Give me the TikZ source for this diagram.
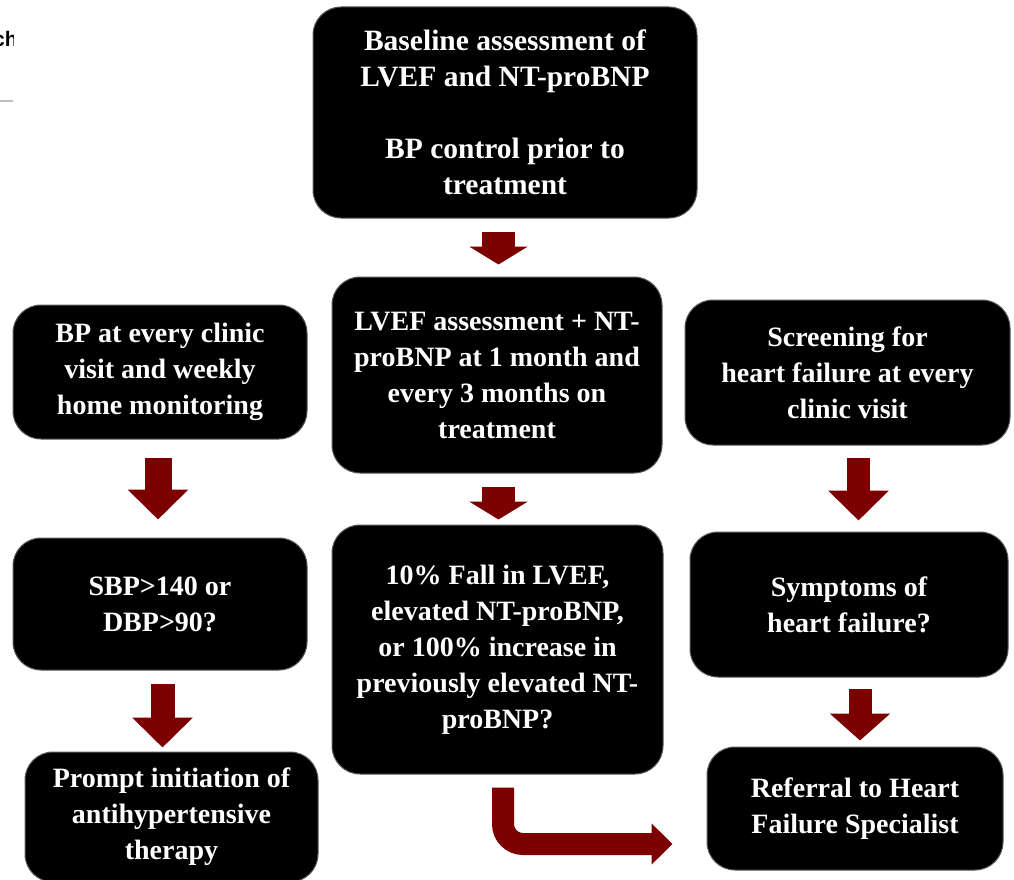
\documentclass[tikz,border=0pt]{standalone}
\usepackage{fontspec}
\setmainfont{Liberation Serif}
\newfontfamily\fragfont{Liberation Sans}
\usetikzlibrary{arrows.meta,calc}
\definecolor{arrowred}{RGB}{125,0,0}
\definecolor{boxedge}{RGB}{90,90,90}
\tikzset{
  blk/.style={rectangle, rounded corners=28pt, fill=black, draw=boxedge, line width=1pt,
    text=white, align=center, inner sep=0pt,
    font=\bfseries\fontsize{28}{36}\selectfont},
  darrow/.style n args={3}{draw=arrowred, line width=#1, line cap=butt,
    -{Triangle[length=#2, width=#3, fill=arrowred]}}
}
\begin{document}
\begin{tikzpicture}[x=1pt, y=-1pt]
\clip (0,0) rectangle (1014,880);
\fill[white] (0,0) rectangle (1014,880);

% fragment at top-left
\begin{scope}
  \clip (0,0) rectangle (13,70);
  \node[anchor=base west, inner sep=0pt, font=\fragfont\bfseries\fontsize{21}{24}\selectfont] (frag) at (-7,47) {ch};
\end{scope}
\coordinate (rulea) at (0,101);
\coordinate (ruleb) at (13,101);
\draw[black!25, line width=2pt] (rulea) -- (ruleb);

% boxes
\node[blk, minimum width=384pt, minimum height=211pt, font=\bfseries\fontsize{29.5}{36}\selectfont] (top) at (505,112.5)
  {Baseline assessment of\\LVEF and NT-proBNP\\[36pt]BP control prior to\\treatment};
\node[blk, minimum width=330pt, minimum height=196pt] (mid2) at (497,375)
  {LVEF assessment + NT-\\proBNP at 1 month and\\every 3 months on\\treatment};
\node[blk, minimum width=331pt, minimum height=249pt] (mid3) at (497.5,649.5)
  {10\% Fall in LVEF,\\elevated NT-proBNP,\\or 100\% increase in\\previously elevated NT-\\proBNP?};
\node[blk, minimum width=294pt, minimum height=134pt] (L1) at (160,372)
  {BP at every clinic\\visit and weekly\\home monitoring};
\node[blk, minimum width=294pt, minimum height=132pt] (L2) at (160,604)
  {SBP>140 or\\DBP>90?};
\node[blk, minimum width=293pt, minimum height=130pt] (L3) at (171.5,817)
  {Prompt initiation of\\antihypertensive\\therapy};
\node[blk, minimum width=325pt, minimum height=145pt] (R1) at (847.5,372.5)
  {Screening for\\heart failure at every\\clinic visit};
\node[blk, minimum width=318pt, minimum height=145pt] (R2) at (849,604.5)
  {Symptoms of\\heart failure?};
\node[blk, minimum width=296pt, minimum height=123pt] (R3) at (855,808.5)
  {Referral to Heart\\Failure Specialist};

% block arrows
\draw[darrow={33pt}{18pt}{58pt}] ($(mid2.north)+(1.5,-45)$) -- ($(mid2.north)+(1.5,-12)$);
\draw[darrow={33pt}{18pt}{58pt}] ($(mid3.north)+(1,-38)$) -- ($(mid3.north)+(1,-5)$);
\draw[darrow={27pt}{30pt}{59pt}] ($(L1.south)+(-2,18)$) -- ($(L2.north)+(-2,-18)$);
\draw[darrow={24pt}{30pt}{59pt}] ($(L2.south)+(2.5,13)$) -- ($(L2.south)+(2.5,77)$);
\draw[darrow={23pt}{30pt}{59pt}] ($(R1.south)+(11,12)$) -- ($(R1.south)+(11,75)$);
\draw[darrow={23pt}{27pt}{59pt}] ($(R2.south)+(11,11)$) -- ($(R2.south)+(11,63)$);

% bent arrow
\coordinate (bendtip) at ($(R3.west)+(-34,35.5)$);
\draw[draw=arrowred, line width=22pt, rounded corners=20pt,
  -{Triangle[length=21pt, width=40pt, fill=arrowred]}]
  ($(mid3.south)+(5.5,13)$) |- (bendtip);
\end{tikzpicture}
\end{document}
